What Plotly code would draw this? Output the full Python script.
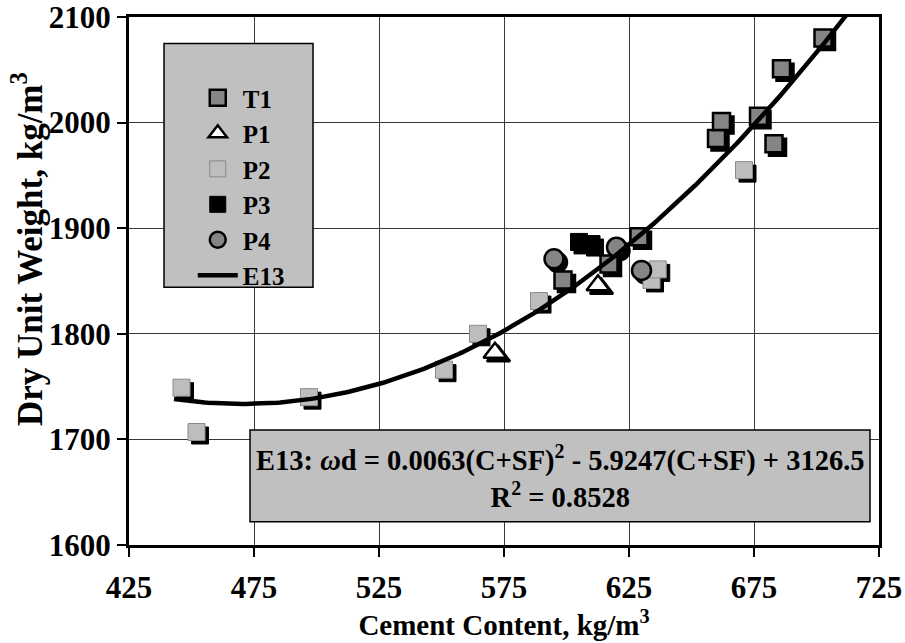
import numpy as np
import plotly.graph_objects as go

# Cement content (kg/m3) and dry unit weight (kg/m3) for each mix series
t1_cement = [598.6, 617.0, 629.0, 660.0, 662.0, 676.8, 683.0, 686.0, 702.6]
t1_weight = [1851, 1866, 1892, 1985, 2001, 2006, 1980, 2051, 2080]

p1_cement = [571.4, 612.6]
p1_weight = [1782, 1846]

p2_cement = [446.0, 452.0, 497.0, 551.0, 564.6, 589.0, 634.0, 636.5, 671.0]
p2_weight = [1749, 1707, 1740, 1766, 1800, 1831, 1851, 1861, 1955]

p3_cement = [605.0, 610.0]
p3_weight = [1887, 1885]

p4_cement = [595.0, 620.0, 630.0]
p4_weight = [1871, 1882, 1860]

# E13 regression: wd = a(C+SF)^2 + b(C+SF) + c
e13_a, e13_b, e13_c = 0.0063, -5.9247, 3126.5
e13_r2 = 0.8528
e13_span = [443, 716]

x_ticks = [425, 475, 525, 575, 625, 675, 725]
y_ticks = [1600, 1700, 1800, 1900, 2000, 2100]

FONT = "Liberation Serif"
X_RANGE = [425, 725]
Y_RANGE = [1600, 2100]
PLOT_W, PLOT_H = 750, 528
SHADOW_PX = 3.5

series = [
    ("T1", t1_cement, t1_weight, dict(symbol="square", size=17, color="#858585",
                                      line=dict(color="black", width=2.5))),
    ("P1", p1_cement, p1_weight, dict(symbol="triangle-up", size=20, color="white",
                                      line=dict(color="black", width=2.5))),
    ("P2", p2_cement, p2_weight, dict(symbol="square", size=17, color="#bdbdbd",
                                      line=dict(color="#8a8a8a", width=1))),
    ("P3", p3_cement, p3_weight, dict(symbol="square", size=17, color="black",
                                      line=dict(color="black", width=1))),
    ("P4", p4_cement, p4_weight, dict(symbol="circle", size=19, color="#858585",
                                      line=dict(color="black", width=2.5))),
]

fig = go.Figure()

# drop shadows, drawn on a slightly shifted hidden axis pair
for name, xs, ys, mk in series:
    sh = dict(mk)
    sh["color"] = "black"
    sh["line"] = dict(color="black", width=mk["line"]["width"])
    fig.add_trace(go.Scatter(x=xs, y=ys, mode="markers", marker=sh,
                             xaxis="x2", yaxis="y2", showlegend=False,
                             hoverinfo="skip"))

for name, xs, ys, mk in series:
    fig.add_trace(go.Scatter(x=xs, y=ys, mode="markers", name=name, marker=mk,
                             xaxis="x3", yaxis="y3"))

cx = np.linspace(e13_span[0], e13_span[1], 200)
cy = e13_a * cx ** 2 + e13_b * cx + e13_c
fig.add_trace(go.Scatter(x=cx, y=cy, mode="lines", name="E13",
                         line=dict(color="black", width=4.5),
                         xaxis="x3", yaxis="y3"))

dx = SHADOW_PX * (X_RANGE[1] - X_RANGE[0]) / PLOT_W
dy = SHADOW_PX * (Y_RANGE[1] - Y_RANGE[0]) / PLOT_H

tick_font = dict(family=FONT, size=31, color="black", weight="bold")
title_font = dict(family=FONT, size=29, color="black", weight="bold")

fig.update_layout(
    width=905, height=643,
    margin=dict(l=129, r=26, t=17, b=98),
    paper_bgcolor="white", plot_bgcolor="white",
    font=dict(family=FONT, size=28, color="black"),
    showlegend=True,
    legend=dict(x=0.085, y=0.89, xanchor="left", yanchor="top",
                bgcolor="rgba(0,0,0,0)", borderwidth=0,
                font=dict(family=FONT, size=25, color="black", weight="bold"),
                itemwidth=40, tracegroupgap=0),
    xaxis=dict(range=X_RANGE, tickvals=x_ticks,
               ticktext=[f"<b>{v}</b>" for v in x_ticks],
               ticks="outside", ticklen=9, ticklabelstandoff=4,
               tickwidth=1.5, tickcolor="black", tickfont=tick_font,
               showgrid=True, gridcolor="#3a3a3a", gridwidth=1,
               showline=True, linecolor="black", linewidth=3, mirror=True,
               zeroline=False, automargin=False, ticklabeloverflow="allow",
               title=dict(text="Cement Content, kg/m<sup>3</sup>",
                          font=title_font, standoff=4)),
    yaxis=dict(range=Y_RANGE, tickvals=y_ticks,
               ticktext=[f"<b>{v}</b>" for v in y_ticks],
               ticks="outside", ticklen=9,
               tickwidth=1.5, tickcolor="black", tickfont=tick_font,
               showgrid=True, gridcolor="#3a3a3a", gridwidth=1,
               showline=True, linecolor="black", linewidth=3, mirror=True,
               zeroline=False, automargin=False, ticklabeloverflow="allow"),
    xaxis2=dict(overlaying="x", anchor="y2", visible=False,
                range=[X_RANGE[0] - dx, X_RANGE[1] - dx]),
    yaxis2=dict(overlaying="y", anchor="x2", visible=False,
                range=[Y_RANGE[0] + dy, Y_RANGE[1] + dy]),
    xaxis3=dict(overlaying="x", anchor="y3", visible=False, range=X_RANGE),
    yaxis3=dict(overlaying="y", anchor="x3", visible=False, range=Y_RANGE),
)

# legend panel and equation panel
fig.add_shape(type="rect", xref="x", yref="y", x0=439, x1=498.6, y0=1844, y1=2075,
              fillcolor="#c0c0c0", line=dict(color="black", width=1.5),
              layer="between")
fig.add_shape(type="rect", xref="x", yref="y", x0=473.4, x1=721.4, y0=1622, y1=1709,
              fillcolor="#c0c0c0", line=dict(color="black", width=1.5),
              layer="between")

eq_text = (f"E13: <i>ω</i>d = {e13_a:.4f}(C+SF)<sup>2</sup> - "
           f"{abs(e13_b):.4f}(C+SF) + {e13_c:.1f}<br>"
           f"R<sup>2</sup> = {e13_r2:.4f}")
fig.add_annotation(x=597.4, y=1665, xref="x", yref="y", text=eq_text,
                   showarrow=False,
                   font=dict(family=FONT, size=28.5, color="black", weight="bold"),
                   align="center")

fig.add_annotation(x=-0.135, y=0.56, xref="paper", yref="paper",
                   xanchor="center", yanchor="middle",
                   text="Dry Unit Weight, kg/m<sup>3</sup>", textangle=-90,
                   showarrow=False,
                   font=dict(family=FONT, size=35, color="black", weight="bold"))

fig.write_html("out.html")
